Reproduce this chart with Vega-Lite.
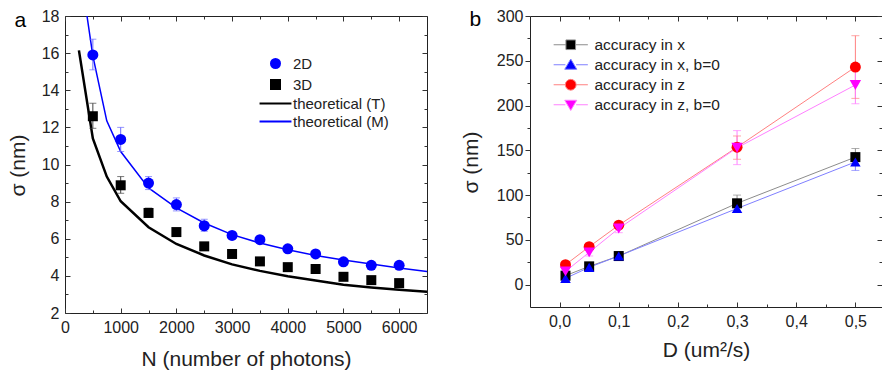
{
  "$schema": "https://vega.github.io/schema/vega-lite/v6.json",
  "padding": {"left": 6, "top": 7, "right": 0, "bottom": 0},
  "background": "white",
  "bounds": "flush",
  "spacing": 103,
  "resolve": {"scale": {"color": "independent", "fill": "independent", "stroke": "independent", "shape": "independent", "size": "independent"}, "legend": {"color": "independent", "fill": "independent", "stroke": "independent", "shape": "independent"}},
  "config": {
    "view": {"stroke": "#222", "strokeWidth": 1},
    "axis": {"grid": false, "domain": false, "labelFont": "Liberation Sans", "labelFontSize": 16, "labelColor": "#222", "titleFont": "Liberation Sans", "titleFontSize": 21, "titleFontWeight": "normal", "titleColor": "#222", "tickColor": "#333", "labelFlush": false, "labelOverlap": false},
    "legend": {"labelFont": "Liberation Sans", "labelColor": "#222"}
  },
  "datasets": {
    "pts": [
      {"N": 500, "sigma": 15.9, "lo": 15.1, "hi": 16.75, "series": "2D"},
      {"N": 1000, "sigma": 11.35, "lo": 10.7, "hi": 12.0, "series": "2D"},
      {"N": 1500, "sigma": 9.0, "lo": 8.65, "hi": 9.35, "series": "2D"},
      {"N": 2000, "sigma": 7.84, "lo": 7.5, "hi": 8.2, "series": "2D"},
      {"N": 2500, "sigma": 6.7, "lo": 6.4, "hi": 7.05, "series": "2D"},
      {"N": 3000, "sigma": 6.18, "lo": 6.0, "hi": 6.35, "series": "2D"},
      {"N": 3500, "sigma": 5.95, "lo": 5.8, "hi": 6.1, "series": "2D"},
      {"N": 4000, "sigma": 5.46, "lo": 5.3, "hi": 5.6, "series": "2D"},
      {"N": 4500, "sigma": 5.18, "lo": 5.05, "hi": 5.3, "series": "2D"},
      {"N": 5000, "sigma": 4.76, "lo": 4.65, "hi": 4.88, "series": "2D"},
      {"N": 5500, "sigma": 4.57, "lo": 4.47, "hi": 4.67, "series": "2D"},
      {"N": 6000, "sigma": 4.57, "lo": 4.47, "hi": 4.67, "series": "2D"},
      {"N": 500, "sigma": 12.6, "lo": 11.95, "hi": 13.3, "series": "3D"},
      {"N": 1000, "sigma": 8.88, "lo": 8.45, "hi": 9.35, "series": "3D"},
      {"N": 1500, "sigma": 7.39, "lo": 7.15, "hi": 7.65, "series": "3D"},
      {"N": 2000, "sigma": 6.36, "lo": 6.2, "hi": 6.5, "series": "3D"},
      {"N": 2500, "sigma": 5.59, "lo": 5.45, "hi": 5.72, "series": "3D"},
      {"N": 3000, "sigma": 5.18, "lo": 5.08, "hi": 5.28, "series": "3D"},
      {"N": 3500, "sigma": 4.78, "lo": 4.7, "hi": 4.86, "series": "3D"},
      {"N": 4000, "sigma": 4.47, "lo": 4.4, "hi": 4.55, "series": "3D"},
      {"N": 4500, "sigma": 4.37, "lo": 4.3, "hi": 4.45, "series": "3D"},
      {"N": 5000, "sigma": 3.95, "lo": 3.88, "hi": 4.02, "series": "3D"},
      {"N": 5500, "sigma": 3.77, "lo": 3.7, "hi": 3.84, "series": "3D"},
      {"N": 6000, "sigma": 3.61, "lo": 3.54, "hi": 3.68, "series": "3D"}
    ],
    "theory": [
      {"N": 250, "sigma": 16.15, "series": "theoretical (T)"},
      {"N": 500, "sigma": 11.4, "series": "theoretical (T)"},
      {"N": 750, "sigma": 9.35, "series": "theoretical (T)"},
      {"N": 1000, "sigma": 8.02, "series": "theoretical (T)"},
      {"N": 1500, "sigma": 6.62, "series": "theoretical (T)"},
      {"N": 2000, "sigma": 5.72, "series": "theoretical (T)"},
      {"N": 2500, "sigma": 5.1, "series": "theoretical (T)"},
      {"N": 3000, "sigma": 4.62, "series": "theoretical (T)"},
      {"N": 3500, "sigma": 4.27, "series": "theoretical (T)"},
      {"N": 4000, "sigma": 3.98, "series": "theoretical (T)"},
      {"N": 4500, "sigma": 3.75, "series": "theoretical (T)"},
      {"N": 5000, "sigma": 3.52, "series": "theoretical (T)"},
      {"N": 5500, "sigma": 3.38, "series": "theoretical (T)"},
      {"N": 6000, "sigma": 3.25, "series": "theoretical (T)"},
      {"N": 6500, "sigma": 3.14, "series": "theoretical (T)"},
      {"N": 395, "sigma": 18.0, "series": "theoretical (M)"},
      {"N": 500, "sigma": 15.85, "series": "theoretical (M)"},
      {"N": 750, "sigma": 12.35, "series": "theoretical (M)"},
      {"N": 1000, "sigma": 10.7, "series": "theoretical (M)"},
      {"N": 1500, "sigma": 8.74, "series": "theoretical (M)"},
      {"N": 2000, "sigma": 7.66, "series": "theoretical (M)"},
      {"N": 2500, "sigma": 6.85, "series": "theoretical (M)"},
      {"N": 3000, "sigma": 6.22, "series": "theoretical (M)"},
      {"N": 3500, "sigma": 5.77, "series": "theoretical (M)"},
      {"N": 4000, "sigma": 5.41, "series": "theoretical (M)"},
      {"N": 4500, "sigma": 5.1, "series": "theoretical (M)"},
      {"N": 5000, "sigma": 4.85, "series": "theoretical (M)"},
      {"N": 5500, "sigma": 4.64, "series": "theoretical (M)"},
      {"N": 6000, "sigma": 4.42, "series": "theoretical (M)"},
      {"N": 6500, "sigma": 4.24, "series": "theoretical (M)"}
    ],
    "acc": [
      {"D": 0.01, "sigma": 10, "lo": 8, "hi": 12, "series": "accuracy in x"},
      {"D": 0.05, "sigma": 20.4, "lo": 17, "hi": 24, "series": "accuracy in x"},
      {"D": 0.1, "sigma": 31.9, "lo": 28, "hi": 36, "series": "accuracy in x"},
      {"D": 0.3, "sigma": 90.8, "lo": 81, "hi": 100, "series": "accuracy in x"},
      {"D": 0.5, "sigma": 142.4, "lo": 133, "hi": 152, "series": "accuracy in x"},
      {"D": 0.01, "sigma": 7, "lo": 4, "hi": 10, "series": "accuracy in x, b=0"},
      {"D": 0.05, "sigma": 19.3, "lo": 15, "hi": 23, "series": "accuracy in x, b=0"},
      {"D": 0.1, "sigma": 32, "lo": 27, "hi": 37, "series": "accuracy in x, b=0"},
      {"D": 0.3, "sigma": 85, "lo": 81, "hi": 89, "series": "accuracy in x, b=0"},
      {"D": 0.5, "sigma": 137, "lo": 127.5, "hi": 146.5, "series": "accuracy in x, b=0"},
      {"D": 0.01, "sigma": 22.2, "lo": 19, "hi": 25, "series": "accuracy in z"},
      {"D": 0.05, "sigma": 42.3, "lo": 39, "hi": 45, "series": "accuracy in z"},
      {"D": 0.1, "sigma": 66.4, "lo": 63, "hi": 70, "series": "accuracy in z"},
      {"D": 0.3, "sigma": 153.5, "lo": 140, "hi": 166, "series": "accuracy in z"},
      {"D": 0.5, "sigma": 243, "lo": 208, "hi": 278, "series": "accuracy in z"},
      {"D": 0.01, "sigma": 14.8, "lo": 11, "hi": 18, "series": "accuracy in z, b=0"},
      {"D": 0.05, "sigma": 36, "lo": 32, "hi": 40, "series": "accuracy in z, b=0"},
      {"D": 0.1, "sigma": 62.7, "lo": 58, "hi": 67, "series": "accuracy in z, b=0"},
      {"D": 0.3, "sigma": 152.8, "lo": 134, "hi": 172, "series": "accuracy in z, b=0"},
      {"D": 0.5, "sigma": 223, "lo": 202, "hi": 244, "series": "accuracy in z, b=0"}
    ]
  },
  "hconcat": [
    {
      "width": 362,
      "height": 297,
      "resolve": {"axis": {"x": "independent", "y": "independent"}},
      "layer": [
        {
          "data": {"name": "theory"},
          "transform": [{"filter": "datum.series === 'theoretical (T)'"}],
          "mark": {"type": "line", "color": "#000000", "strokeWidth": 2.5, "clip": true},
          "encoding": {
            "x": {"field": "N", "type": "quantitative", "scale": {"domain": [0, 6500], "nice": false, "zero": false},
              "axis": {"orient": "bottom", "values": [0, 1000, 2000, 3000, 4000, 5000, 6000], "format": "d", "ticks": false, "labelPadding": 6, "title": "N (number of photons)", "titleY": 46, "titleBaseline": "middle"}},
            "y": {"field": "sigma", "type": "quantitative", "scale": {"domain": [2, 18], "nice": false, "zero": false},
              "axis": {"orient": "left", "values": [2, 4, 6, 8, 10, 12, 14, 16, 18], "ticks": false, "labelPadding": 6, "title": "σ (nm)", "titleX": -47, "titleY": 149, "titleBaseline": "middle", "titleAlign": "center", "titleAngle": 270}}
          }
        },
        {
          "data": {"name": "theory"},
          "transform": [{"filter": "datum.series === 'theoretical (M)'"}],
          "mark": {"type": "line", "color": "#0000ff", "strokeWidth": 1.5, "clip": true},
          "encoding": {
            "x": {"field": "N", "type": "quantitative", "scale": {"domain": [0, 6500], "nice": false, "zero": false},
              "axis": {"orient": "bottom", "values": [0, 1000, 2000, 3000, 4000, 5000, 6000], "labels": false, "tickSize": -5, "title": null}},
            "y": {"field": "sigma", "type": "quantitative", "scale": {"domain": [2, 18], "nice": false, "zero": false},
              "axis": {"orient": "left", "values": [2, 4, 6, 8, 10, 12, 14, 16, 18], "labels": false, "tickSize": -5, "title": null}}
          }
        },
        {
          "data": {"name": "pts"},
          "transform": [{"filter": "datum.series === '2D'"}],
          "mark": {"type": "rule", "color": "#6a6aff", "strokeWidth": 1},
          "encoding": {
            "x": {"field": "N", "type": "quantitative", "scale": {"domain": [0, 6500], "nice": false, "zero": false},
              "axis": {"orient": "bottom", "values": [500, 1500, 2500, 3500, 4500, 5500], "labels": false, "tickSize": -3, "title": null}},
            "y": {"field": "lo", "type": "quantitative", "scale": {"domain": [2, 18], "nice": false, "zero": false},
              "axis": {"orient": "left", "values": [3, 5, 7, 9, 11, 13, 15, 17], "labels": false, "tickSize": -3, "title": null}},
            "y2": {"field": "hi"}
          }
        },
        {
          "data": {"name": "pts"},
          "transform": [{"filter": "datum.series === '3D'"}],
          "mark": {"type": "rule", "color": "#444444", "strokeWidth": 1},
          "encoding": {
            "x": {"field": "N", "type": "quantitative", "scale": {"domain": [0, 6500], "nice": false, "zero": false},
              "axis": {"orient": "top", "values": [0, 1000, 2000, 3000, 4000, 5000, 6000], "labels": false, "tickSize": -5,
                "title": "a", "titleX": -51, "titleY": 10, "titleAlign": "left", "titleBaseline": "alphabetic", "titleAngle": 0, "titleColor": "#000000"}},
            "y": {"field": "lo", "type": "quantitative", "scale": {"domain": [2, 18], "nice": false, "zero": false},
              "axis": {"orient": "right", "values": [2, 4, 6, 8, 10, 12, 14, 16, 18], "labels": false, "tickSize": -5, "title": null}},
            "y2": {"field": "hi"}
          }
        },
        {
          "data": {"name": "pts"},
          "transform": [{"filter": "datum.series === '2D'"}],
          "mark": {"type": "tick", "orient": "horizontal", "color": "#6a6aff", "size": 7, "thickness": 1},
          "encoding": {
            "x": {"field": "N", "type": "quantitative", "scale": {"domain": [0, 6500], "nice": false, "zero": false},
              "axis": {"orient": "top", "values": [500, 1500, 2500, 3500, 4500, 5500], "labels": false, "tickSize": -3, "title": null}},
            "y": {"field": "lo", "type": "quantitative", "scale": {"domain": [2, 18], "nice": false, "zero": false},
              "axis": {"orient": "right", "values": [3, 5, 7, 9, 11, 13, 15, 17], "labels": false, "tickSize": -3, "title": null}}
          }
        },
        {
          "data": {"name": "pts"},
          "transform": [{"filter": "datum.series === '2D'"}],
          "mark": {"type": "tick", "orient": "horizontal", "color": "#6a6aff", "size": 7, "thickness": 1},
          "encoding": {
            "x": {"field": "N", "type": "quantitative", "scale": {"domain": [0, 6500], "nice": false, "zero": false}, "axis": null},
            "y": {"field": "hi", "type": "quantitative", "scale": {"domain": [2, 18], "nice": false, "zero": false}, "axis": null}
          }
        },
        {
          "data": {"name": "pts"},
          "transform": [{"filter": "datum.series === '3D'"}],
          "mark": {"type": "tick", "orient": "horizontal", "color": "#444444", "size": 7, "thickness": 1},
          "encoding": {
            "x": {"field": "N", "type": "quantitative", "scale": {"domain": [0, 6500], "nice": false, "zero": false}, "axis": null},
            "y": {"field": "lo", "type": "quantitative", "scale": {"domain": [2, 18], "nice": false, "zero": false}, "axis": null}
          }
        },
        {
          "data": {"name": "pts"},
          "transform": [{"filter": "datum.series === '3D'"}],
          "mark": {"type": "tick", "orient": "horizontal", "color": "#444444", "size": 7, "thickness": 1},
          "encoding": {
            "x": {"field": "N", "type": "quantitative", "scale": {"domain": [0, 6500], "nice": false, "zero": false}, "axis": null},
            "y": {"field": "hi", "type": "quantitative", "scale": {"domain": [2, 18], "nice": false, "zero": false}, "axis": null}
          }
        },
        {
          "data": {"name": "pts"},
          "mark": {"type": "point", "filled": true, "opacity": 1},
          "encoding": {
            "x": {"field": "N", "type": "quantitative", "scale": {"domain": [0, 6500], "nice": false, "zero": false}, "axis": null},
            "y": {"field": "sigma", "type": "quantitative", "scale": {"domain": [2, 18], "nice": false, "zero": false}, "axis": null},
            "size": {"field": "series", "type": "nominal", "scale": {"domain": ["2D", "3D"], "range": [121, 100]}, "legend": null},
            "shape": {"field": "series", "type": "nominal", "scale": {"domain": ["2D", "3D", "theoretical (T)", "theoretical (M)"], "range": ["circle", "square", "M-2.9,0H2.9", "M-2.9,0H2.9"]}},
            "stroke": {"field": "series", "type": "nominal", "scale": {"domain": ["2D", "3D", "theoretical (T)", "theoretical (M)"], "range": ["transparent", "transparent", "#000000", "#0000ff"]}},
            "color": {"field": "series", "type": "nominal",
              "scale": {"domain": ["2D", "3D", "theoretical (T)", "theoretical (M)"], "range": ["#0000ff", "#000000", "transparent", "transparent"]},
              "legend": {"title": null, "orient": "none", "legendX": 203, "legendY": 40, "labelFontSize": 15, "symbolSize": 121, "symbolStrokeWidth": 2, "symbolOpacity": 1, "labelOffset": 10, "rowPadding": 2, "padding": 0}}
          }
        }
      ]
    },
    {
      "width": 352,
      "height": 291,
      "resolve": {"axis": {"x": "independent", "y": "independent"}, "scale": {"fill": "independent", "stroke": "independent", "shape": "independent", "size": "independent"}},
      "layer": [
        {
          "data": {"name": "acc"},
          "mark": {"type": "line", "strokeWidth": 1},
          "encoding": {
            "x": {"field": "D", "type": "quantitative", "scale": {"domain": [-0.05, 0.545], "nice": false, "zero": false},
              "axis": {"orient": "bottom", "values": [0, 0.1, 0.2, 0.3, 0.4, 0.5], "labelExpr": "replace(format(datum.value, '.1f'), '.', ',')", "ticks": false, "labelPadding": 6, "title": "D (um²/s)", "titleY": 43, "titleBaseline": "middle"}},
            "y": {"field": "sigma", "type": "quantitative", "scale": {"domain": [-25, 300], "nice": false, "zero": false},
              "axis": {"orient": "left", "values": [0, 50, 100, 150, 200, 250, 300], "ticks": false, "labelPadding": 7, "title": "σ (nm)", "titleX": -59, "titleY": 146, "titleBaseline": "middle", "titleAlign": "center", "titleAngle": 270}},
            "color": {"field": "series", "type": "nominal",
              "scale": {"domain": ["accuracy in x", "accuracy in x, b=0", "accuracy in z", "accuracy in z, b=0"], "range": ["#8c8c8c", "#7f7fff", "#ff8080", "#ff80ff"]},
              "legend": null}
          }
        },
        {
          "data": {"name": "acc"},
          "mark": {"type": "rule", "strokeWidth": 1},
          "encoding": {
            "x": {"field": "D", "type": "quantitative", "scale": {"domain": [-0.05, 0.545], "nice": false, "zero": false},
              "axis": {"orient": "bottom", "values": [0, 0.1, 0.2, 0.3, 0.4, 0.5], "labels": false, "tickSize": -5, "title": null}},
            "y": {"field": "lo", "type": "quantitative", "scale": {"domain": [-25, 300], "nice": false, "zero": false},
              "axis": {"orient": "left", "values": [0, 50, 100, 150, 200, 250, 300], "labels": false, "tickSize": 5, "title": null}},
            "y2": {"field": "hi"},
            "color": {"field": "series", "type": "nominal", "legend": null}
          }
        },
        {
          "data": {"name": "acc"},
          "mark": {"type": "tick", "orient": "horizontal", "size": 8, "thickness": 1},
          "encoding": {
            "x": {"field": "D", "type": "quantitative", "scale": {"domain": [-0.05, 0.545], "nice": false, "zero": false},
              "axis": {"orient": "bottom", "values": [0.05, 0.15, 0.25, 0.35, 0.45], "labels": false, "tickSize": -3, "title": null}},
            "y": {"field": "lo", "type": "quantitative", "scale": {"domain": [-25, 300], "nice": false, "zero": false},
              "axis": {"orient": "left", "values": [25, 75, 125, 175, 225, 275], "labels": false, "tickSize": 3, "title": null}},
            "color": {"field": "series", "type": "nominal", "legend": null}
          }
        },
        {
          "data": {"name": "acc"},
          "mark": {"type": "tick", "orient": "horizontal", "size": 8, "thickness": 1},
          "encoding": {
            "x": {"field": "D", "type": "quantitative", "scale": {"domain": [-0.05, 0.545], "nice": false, "zero": false},
              "axis": {"orient": "top", "values": [0, 0.1, 0.2, 0.3, 0.4, 0.5], "labels": false, "tickSize": -5,
                "title": "b", "titleX": -61, "titleY": 9, "titleAlign": "left", "titleBaseline": "alphabetic", "titleAngle": 0, "titleColor": "#000000"}},
            "y": {"field": "hi", "type": "quantitative", "scale": {"domain": [-25, 300], "nice": false, "zero": false},
              "axis": {"orient": "right", "values": [0, 50, 100, 150, 200, 250, 300], "labels": false, "tickSize": -5, "title": null}},
            "color": {"field": "series", "type": "nominal", "legend": null}
          }
        },
        {
          "data": {"name": "acc"},
          "mark": {"type": "point", "filled": true, "opacity": 1},
          "encoding": {
            "x": {"field": "D", "type": "quantitative", "scale": {"domain": [-0.05, 0.545], "nice": false, "zero": false},
              "axis": {"orient": "top", "values": [0.05, 0.15, 0.25, 0.35, 0.45], "labels": false, "tickSize": -3, "title": null}},
            "y": {"field": "sigma", "type": "quantitative", "scale": {"domain": [-25, 300], "nice": false, "zero": false},
              "axis": {"orient": "right", "values": [25, 75, 125, 175, 225, 275], "labels": false, "tickSize": -3, "title": null}},
            "fill": {"field": "series", "type": "nominal",
              "scale": {"domain": ["accuracy in x", "accuracy in x, b=0", "accuracy in z", "accuracy in z, b=0"], "range": ["#000000", "#0000ff", "#ff0000", "#ff00ff"]}, "legend": null},
            "shape": {"field": "series", "type": "nominal",
              "scale": {"domain": ["accuracy in x", "accuracy in x, b=0", "accuracy in z", "accuracy in z, b=0"], "range": ["square", "triangle-up", "circle", "triangle-down"]}, "legend": null},
            "size": {"field": "series", "type": "nominal",
              "scale": {"domain": ["accuracy in x", "accuracy in x, b=0", "accuracy in z", "accuracy in z, b=0"], "range": [100, 130, 121, 130]}, "legend": null}
          }
        },
        {
          "data": {"name": "acc"},
          "transform": [{"filter": "false"}],
          "mark": {"type": "point", "filled": true, "opacity": 1},
          "encoding": {
            "x": {"field": "D", "type": "quantitative", "scale": {"domain": [-0.05, 0.545], "nice": false, "zero": false}, "axis": null},
            "y": {"field": "sigma", "type": "quantitative", "scale": {"domain": [-25, 300], "nice": false, "zero": false}, "axis": null},
            "shape": {"field": "series", "type": "nominal",
              "scale": {"domain": ["accuracy in x", "accuracy in x, b=0", "accuracy in z", "accuracy in z, b=0"],
                "range": ["M-2.85,0H-0.8M0.8,0H2.85M-0.8,-0.8H0.8V0.8H-0.8Z", "M-2.85,0H-0.9M0.9,0H2.85M0,-0.95L1,0.75H-1Z", "M-2.85,0H-0.9M0.9,0H2.85M-0.9,0A0.9,0.9,0,1,1,0.9,0A0.9,0.9,0,1,1,-0.9,0Z", "M-2.85,0H-0.9M0.9,0H2.85M0,0.95L1,-0.75H-1Z"]}},
            "stroke": {"field": "series", "type": "nominal",
              "scale": {"domain": ["accuracy in x", "accuracy in x, b=0", "accuracy in z", "accuracy in z, b=0"], "range": ["#8c8c8c", "#7f7fff", "#ff8080", "#ff80ff"]}},
            "fill": {"field": "series", "type": "nominal",
              "scale": {"domain": ["accuracy in x", "accuracy in x, b=0", "accuracy in z", "accuracy in z, b=0"], "range": ["#000000", "#0000ff", "#ff0000", "#ff00ff"]},
              "legend": {"title": null, "orient": "none", "legendX": 33, "legendY": 21, "labelFontSize": 15.5, "symbolSize": 144, "symbolStrokeWidth": 1, "symbolOpacity": 1, "labelOffset": 16, "rowPadding": 3, "padding": 0}}
          }
        }
      ]
    }
  ]
}
